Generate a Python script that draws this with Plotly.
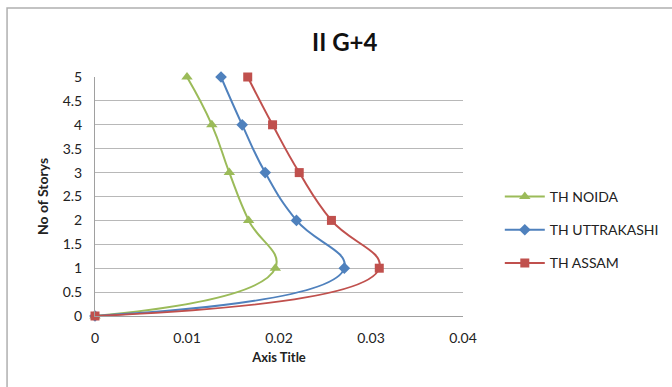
import plotly.graph_objects as go

stories = [0, 1, 2, 3, 4, 5]
th_noida = [0, 0.0196, 0.0167, 0.0146, 0.0127, 0.0100]
th_uttrakashi = [0, 0.0271, 0.0219, 0.0185, 0.0160, 0.0137]
th_assam = [0, 0.0309, 0.0257, 0.0222, 0.0193, 0.0166]

series = [
    ("TH NOIDA", th_noida, "#9BBB59", "triangle-up", 10),
    ("TH UTTRAKASHI", th_uttrakashi, "#4F81BD", "diamond", 9),
    ("TH ASSAM", th_assam, "#C0504D", "square", 9),
]

fig = go.Figure()
for name, xs, color, sym, sz in series:
    fig.add_trace(go.Scatter(
        x=xs, y=stories, name=name, mode="lines+markers", legendgroup=name,
        line=dict(color=color, width=2, shape="spline", smoothing=1.3),
        marker=dict(symbol=sym, size=sz, color=color),
        cliponaxis=False,
    ))

FONT = "Lato, 'Open Sans', sans-serif"

fig.update_layout(
    width=672, height=387,
    margin=dict(l=95, r=209, t=77, b=71, autoexpand=False),
    paper_bgcolor="white", plot_bgcolor="white",
    font=dict(family=FONT, size=13, color="#222"),
    title=dict(text="<b>II G+4</b>", x=0.513, xref="container", xanchor="center",
               y=0.89, yref="container", yanchor="middle",
               font=dict(size=24, family=FONT, color="#111")),
    xaxis=dict(range=[0, 0.04], tickvals=[0, 0.01, 0.02, 0.03, 0.04],
               ticktext=["0", "0.01", "0.02", "0.03", "0.04"],
               showgrid=False, zeroline=False, showline=True, linecolor="#A0A0A0",
               linewidth=1, ticks="", ticklabelstandoff=9,
               tickfont=dict(size=14),
               title=dict(text="<b>Axis Title</b>", font=dict(size=13), standoff=8)),
    yaxis=dict(range=[0, 5], tickvals=[0, 0.5, 1, 1.5, 2, 2.5, 3, 3.5, 4, 4.5, 5],
               ticktext=["0", "0.5", "1", "1.5", "2", "2.5", "3", "3.5", "4", "4.5", "5"],
               showgrid=True, gridcolor="#B8B8B8", gridwidth=1, zeroline=False,
               showline=True, linecolor="#A0A0A0", linewidth=1, ticks="",
               ticklabelstandoff=9, tickfont=dict(size=14),
               title=dict(text="<b>No of Storys</b>", font=dict(size=14), standoff=10)),
    legend=dict(x=1.1, y=0.36, xanchor="left", yanchor="middle",
                font=dict(size=14), itemwidth=40, tracegroupgap=12,
                bgcolor="rgba(0,0,0,0)"),
    shapes=[dict(type="rect", xref="paper", yref="paper",
                 x0=-0.239, x1=1.6, y0=-0.35, y1=1.289,
                 line=dict(color="#B0B0B0", width=1.5), fillcolor="rgba(0,0,0,0)",
                 layer="below")],
)

fig.write_html("out.html")
